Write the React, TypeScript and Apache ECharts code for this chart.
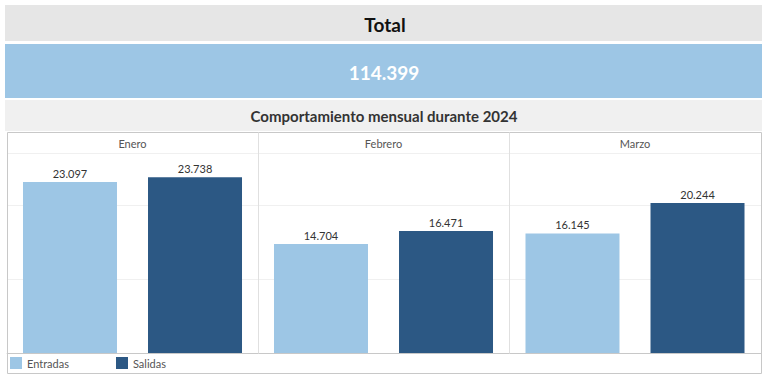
import React, { useEffect, useRef } from "react";
import * as echarts from "echarts";

const months = ["Enero", "Febrero", "Marzo"];
const entradas = [23097, 14704, 16145];
const salidas = [23738, 16471, 20244];
const seriesNames = ["Entradas", "Salidas"];
const colors = ["#9dc6e5", "#2c5884"];
const titleText = "Total";
const subtitleText = "Comportamiento mensual durante 2024";

const fmt = (n: number) => String(Math.round(n)).replace(/\B(?=(\d{3})+(?!\d))/g, ".");

export default function App() {
  const ref = useRef<HTMLDivElement>(null);
  useEffect(() => {
    const chart = echarts.init(ref.current!, undefined, { renderer: "svg" });
    const total = [...entradas, ...salidas].reduce((a, b) => a + b, 0);
    const panelLeft = [7, 258, 509];
    const panelWidth = [251, 251, 252];
    const top = 153;
    const height = 200;
    const font = "Lato, 'Open Sans', sans-serif";

    const grids = months.map((_, i) => ({
      left: panelLeft[i],
      width: panelWidth[i],
      top,
      height,
    }));
    const xAxes = months.map((m, i) => ({
      type: "category",
      gridIndex: i,
      data: [m],
      position: "top",
      axisLine: { show: true, lineStyle: { color: "#d9d9d9" } },
      axisTick: { show: false },
      axisLabel: { color: "#555", fontSize: 11, fontFamily: font, margin: 4 },
    }));
    const yAxes = months.map((_, i) => ({
      type: "value",
      gridIndex: i,
      min: 0,
      max: 27000,
      interval: 10000,
      axisLabel: { show: false },
      axisLine: { show: false },
      axisTick: { show: false },
      splitLine: { lineStyle: { color: "#f0f0f0" } },
    }));
    const series: any[] = [];
    months.forEach((_, i) => {
      [entradas, salidas].forEach((arr, k) => {
        series.push({
          type: "bar",
          name: seriesNames[k],
          xAxisIndex: i,
          yAxisIndex: i,
          data: [arr[i]],
          barWidth: 94,
          barGap: "33%",
          itemStyle: { color: colors[k] },
          label: {
            show: true,
            position: "top",
            distance: 3,
            color: "#333",
            fontSize: 11,
            fontFamily: font,
            formatter: (p: any) => fmt(p.value),
          },
        });
      });
    });

    const lineC = "#c8c8c8";
    const sepC = "#e0e0e0";
    const graphic: any[] = [
      { type: "rect", shape: { x: 5, y: 5, width: 757, height: 36 }, style: { fill: "#e6e6e6" }, z: -10 },
      { type: "rect", shape: { x: 5, y: 44, width: 757, height: 54 }, style: { fill: "#9dc6e5" }, z: -10 },
      { type: "rect", shape: { x: 5, y: 100, width: 757, height: 31 }, style: { fill: "#f0f0f0" }, z: -10 },
      {
        type: "text", x: 385, y: 24,
        style: { text: titleText, font: `bold 19px ${font}`, fill: "#111", align: "center", verticalAlign: "middle" },
      },
      {
        type: "text", x: 384, y: 72,
        style: { text: fmt(total), font: `bold 19px ${font}`, fill: "#ffffff", align: "center", verticalAlign: "middle" },
      },
      {
        type: "text", x: 384, y: 116,
        style: { text: subtitleText, font: `bold 15px ${font}`, fill: "#333", align: "center", verticalAlign: "middle" },
      },
      { type: "rect", shape: { x: 7.5, y: 132.5, width: 754, height: 241 }, style: { fill: "none", stroke: lineC, lineWidth: 1 }, z: 10 },
      { type: "line", shape: { x1: 7.5, y1: 353.5, x2: 761.5, y2: 353.5 }, style: { stroke: lineC, lineWidth: 1 }, z: 10 },
      { type: "line", shape: { x1: 258.5, y1: 132.5, x2: 258.5, y2: 353.5 }, style: { stroke: sepC, lineWidth: 1 }, z: 10 },
      { type: "line", shape: { x1: 509.5, y1: 132.5, x2: 509.5, y2: 353.5 }, style: { stroke: sepC, lineWidth: 1 }, z: 10 },
    ];

    chart.setOption({
      animation: false,
      backgroundColor: "#ffffff",
      grid: grids,
      xAxis: xAxes,
      yAxis: yAxes,
      series,
      legend: {
        data: seriesNames,
        left: 10,
        top: 357,
        itemWidth: 12,
        itemHeight: 12,
        itemGap: 47,
        icon: "rect",
        selectedMode: false,
        textStyle: { color: "#555", fontSize: 11, fontFamily: font, padding: [0, 0, 0, 0] },
        padding: 0,
      },
      graphic,
    });
    return () => chart.dispose();
  }, []);
  return (
    <div
      ref={ref}
      style={{ position: "fixed", left: 0, top: 0, width: 771, height: 382 }}
    />
  );
}
